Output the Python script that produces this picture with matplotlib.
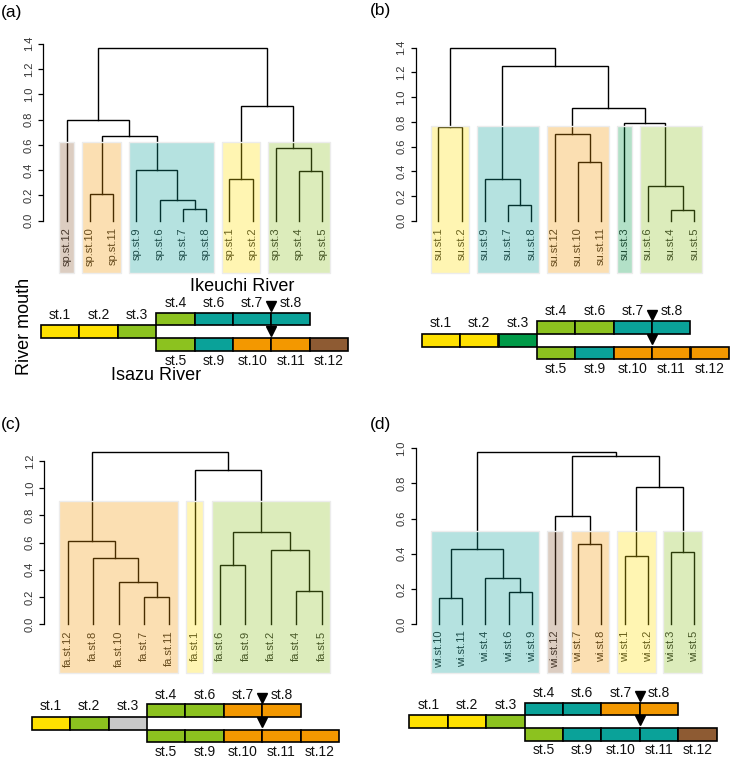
import matplotlib
matplotlib.use('Agg')
import matplotlib.pyplot as plt
from matplotlib.patches import Rectangle
import numpy as np

plt.rcParams['font.family'] = ['Liberation Sans', 'DejaVu Sans']

W, H = 731, 758
fig = plt.figure(figsize=(W / 100, H / 100), dpi=100)

# ---------------- data ----------------
# dendrograms: (merge height, left, right) ; leaves are label strings
tree_a = (1.363,
          (0.80, 'sp.st.12',
                 (0.672, (0.208, 'sp.st.10', 'sp.st.11'),
                         (0.403, 'sp.st.9', (0.163, 'sp.st.6', (0.092, 'sp.st.7', 'sp.st.8'))))),
          (0.91, (0.332, 'sp.st.1', 'sp.st.2'),
                 (0.575, 'sp.st.3', (0.393, 'sp.st.4', 'sp.st.5'))))
tree_b = (1.395,
          (0.755, 'su.st.1', 'su.st.2'),
          (1.249, (0.334, 'su.st.9', (0.129, 'su.st.7', 'su.st.8')),
                  (0.914, (0.699, 'su.st.12', (0.477, 'su.st.10', 'su.st.11')),
                          (0.788, 'su.st.3', (0.278, 'su.st.6', (0.084, 'su.st.4', 'su.st.5'))))))
tree_c = (1.269,
          (0.613, 'fa.st.12', (0.488, 'fa.st.8', (0.309, 'fa.st.10', (0.196, 'fa.st.7', 'fa.st.11')))),
          (1.131, 'fa.st.1',
                  (0.680, (0.437, 'fa.st.6', 'fa.st.9'),
                          (0.545, 'fa.st.2', (0.245, 'fa.st.4', 'fa.st.5')))))
tree_d = (0.981,
          (0.425, (0.146, 'wi.st.10', 'wi.st.11'),
                  (0.264, 'wi.st.4', (0.184, 'wi.st.6', 'wi.st.9'))),
          (0.956, (0.615, 'wi.st.12', (0.454, 'wi.st.7', 'wi.st.8')),
                  (0.782, (0.389, 'wi.st.1', 'wi.st.2'), (0.412, 'wi.st.3', 'wi.st.5'))))

# clusters (colour, stations)
clusters_a = [('brown', [12]), ('orange', [10, 11]), ('teal', [9, 6, 7, 8]),
              ('yellow', [1, 2]), ('green', [3, 4, 5])]
clusters_b = [('yellow', [1, 2]), ('teal', [9, 7, 8]), ('orange', [12, 10, 11]),
              ('dkgreen', [3]), ('green', [6, 4, 5])]
clusters_c = [('orange', [12, 8, 10, 7, 11]), ('yellow', [1]), ('green', [6, 9, 2, 4, 5])]
clusters_d = [('teal', [10, 11, 4, 6, 9]), ('brown', [12]), ('orange', [7, 8]),
              ('yellow', [1, 2]), ('green', [3, 5])]

# cut heights (top of cluster boxes)
cut_a, cut_b, cut_c, cut_d = 0.62, 0.769, 0.906, 0.531
ytop_a, ytop_b, ytop_c, ytop_d = 1.4, 1.4, 1.2, 1.0

# river stations layout
river_mid = [1, 2, 3]
river_top = [4, 6, 7, 8]
river_bot = [5, 9, 10, 11, 12]

colors = {'yellow': '#FFE100', 'green': '#8CC21F', 'teal': '#0AA299',
          'orange': '#F39800', 'brown': '#8E5B33', 'dkgreen': '#009A48',
          'gray': '#C9C9C9'}

# ---------------- helpers ----------------
def px_axes(left, top, right, bottom):
    return fig.add_axes([left / W, 1 - bottom / H, (right - left) / W, (bottom - top) / H])


def draw_dendro(tree, clusters, prefix, cut, ytop, xa, p1, pn, y0, ytp, box_bottom_px):
    leaves = []

    def collect(n):
        if isinstance(n, str):
            leaves.append(n)
        else:
            collect(n[1]); collect(n[2])
    collect(tree)
    n = len(leaves)
    s = (pn - p1) / (n - 1)
    right_px = pn + 0.6 * s
    ax = px_axes(xa, ytp, right_px, y0)
    ax.set_xlim(1 - (p1 - xa) / s, n + 0.6)
    ax.set_ylim(0, ytop)
    ppu = (y0 - ytp) / ytop
    pos = {}

    def draw(node):
        if isinstance(node, str):
            x = len(pos) + 1
            pos[node] = x
            return x, 0.0
        h, l, r = node
        xl, hl = draw(l)
        xr, hr = draw(r)
        ax.plot([xl, xl, xr, xr], [hl, h, h, hr], color='black', lw=1.0,
                solid_joinstyle='miter', clip_on=False, zorder=2)
        return (xl + xr) / 2, h
    draw(tree)

    for lab, x in pos.items():
        ax.text(x, -6.5 / ppu, lab, rotation=90, ha='center', va='top',
                fontsize=8, color='#2a2a2a', zorder=2, clip_on=False)

    ybot = -(box_bottom_px - y0) / ppu
    for cname, sts in clusters:
        xs = [pos[f'{prefix}.st.{k}'] for k in sts]
        x0, x1 = min(xs) - 0.33, max(xs) + 0.33
        ax.add_patch(Rectangle((x0, ybot), x1 - x0, cut - ybot,
                               facecolor=colors[cname], alpha=0.3,
                               edgecolor='none', zorder=3, clip_on=False))
        ax.add_patch(Rectangle((x0, ybot), x1 - x0, cut - ybot,
                               facecolor='none', edgecolor='#ececec', lw=1.0,
                               zorder=3, clip_on=False))

    for sp in ['top', 'right', 'bottom']:
        ax.spines[sp].set_visible(False)
    ax.spines['left'].set_bounds(0, ytop)
    ax.spines['left'].set_linewidth(0.9)
    ticks = np.round(np.arange(0, ytop + 1e-9, 0.2), 1)
    ax.set_yticks(ticks)
    ax.set_yticklabels([f'{t:.1f}' for t in ticks])
    ax.tick_params(axis='y', direction='out', length=3.3, width=0.9,
                   labelsize=8, labelcolor='#333333', pad=3.5, labelrotation=90)
    for t in ax.get_yticklabels():
        t.set_va('center')
    ax.set_xticks([])
    ax.patch.set_visible(False)
    return ax


def draw_river(clusters, left, top_px, bottom_px, names=False):
    st_color = {}
    for cname, sts in clusters:
        for k in sts:
            st_color[k] = colors[cname]
    cw = 38.4
    ax = px_axes(left, top_px, left + 8 * cw, bottom_px)
    ax.set_xlim(0, 8)
    ax.set_ylim(0, 3)
    ax.axis('off')
    rows = [(river_mid, 0, 1, 2.85), (river_top, 3, 2, 3.75), (river_bot, 3, 0, -0.75)]
    for sts, x0, y, ly in rows:
        for i, k in enumerate(sts):
            ax.add_patch(Rectangle((x0 + i, y), 1, 1,
                                   facecolor=st_color.get(k, colors['gray']),
                                   edgecolor='black', lw=1.2, clip_on=False))
            ax.text(x0 + i + 0.5, ly, f'st.{k}', ha='center', va='center',
                    fontsize=10, color='#111111', clip_on=False)
    ax.plot([6, 6], [3.5, 1.6], linestyle='none', marker='v', ms=7,
            color='black', clip_on=False)
    if names:
        ax.text(5.23, 5.09, 'Ikeuchi River', ha='center', va='center', fontsize=13)
        ax.text(3.0, -1.88, 'Isazu River', ha='center', va='center', fontsize=13)
        ax.text(-0.42, 1.9, 'River mouth', ha='center', va='center',
                rotation=90, fontsize=13)
    return ax


# ---------------- panels ----------------
draw_dendro(tree_a, clusters_a, 'sp', cut_a, ytop_a, 43.3, 66.7, 322.3, 220.7, 43.7, 273.3)
draw_dendro(tree_b, clusters_b, 'su', cut_b, ytop_b, 415.7, 438.3, 694.3, 220.7, 47.7, 273.3)
draw_dendro(tree_c, clusters_c, 'fa', cut_c, ytop_c, 44.3, 67.7, 321.7, 624.0, 461.0, 673.3)
draw_dendro(tree_d, clusters_d, 'wi', cut_d, ytop_d, 415.7, 439.0, 694.3, 624.0, 448.3, 673.3)

draw_river(clusters_a, 41.0, 312.7, 351.0, names=True)
draw_river(clusters_b, 421.7, 321.0, 359.3)
draw_river(clusters_c, 31.7, 704.3, 742.3)
draw_river(clusters_d, 409.3, 702.7, 740.7)

for lab, x, y in [('(a)', 1, 12), ('(b)', 370, 11), ('(c)', 1, 425), ('(d)', 370, 425)]:
    fig.text(x / W, 1 - y / H, lab, ha='left', va='center', fontsize=12.5)

fig.savefig('out.png', dpi=100)
